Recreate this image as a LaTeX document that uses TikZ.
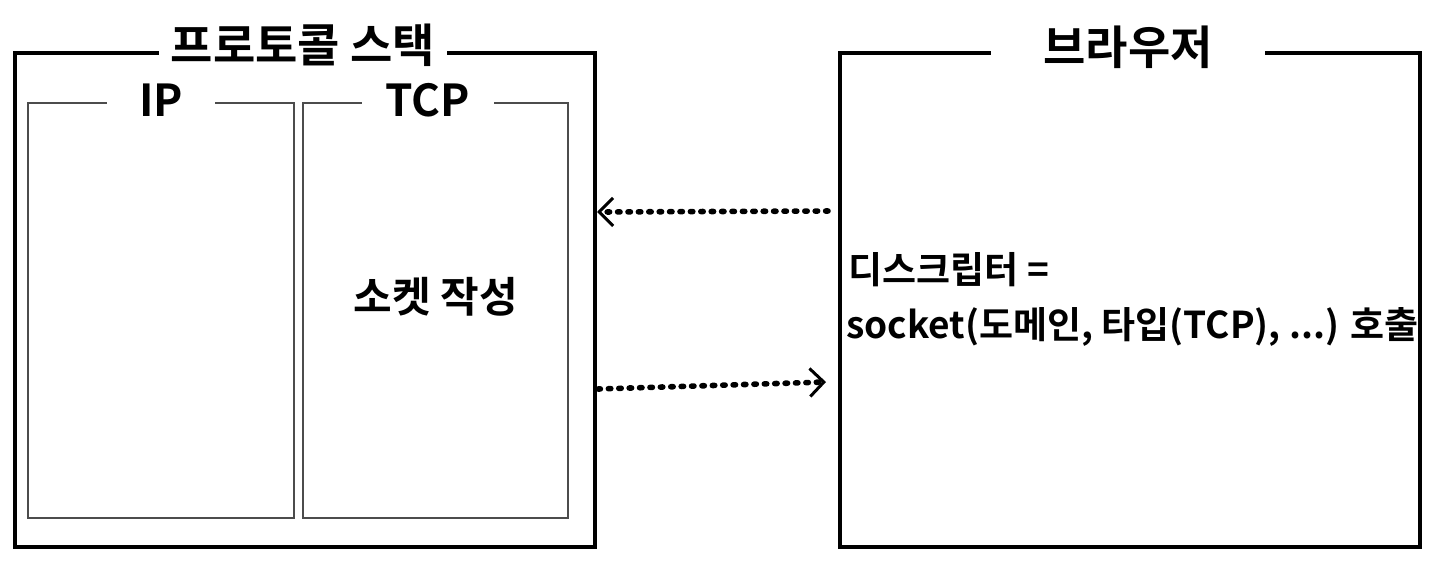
\documentclass[tikz,border=0pt]{standalone}
\usepackage{fontspec}
\setmainfont{Noto Sans CJK KR}[BoldFont={* Bold}]
\usetikzlibrary{positioning, arrows.meta}
\tikzset{
    outer box/.style={draw, line width=1.6pt}, % big frames
    inner box/.style={draw, line width=0.8pt, gray!60!black}, % layer frames
    title/.style={fill=white, inner xsep=6pt, inner ysep=1pt, font=\bfseries\fontsize{23}{26}\selectfont},
    sub title/.style={fill=white, inner xsep=12pt, inner ysep=1pt, font=\bfseries\fontsize{22}{26}\selectfont},
    body/.style={font=\bfseries\fontsize{18.5}{22}\selectfont, inner sep=0pt},
    call/.style={line width=2.8pt, dash pattern=on 1.2pt off 4pt, line cap=round, -{Straight Barb[length=7pt, width=14pt, line width=1.5pt]}},
}
\begin{document}
\begin{tikzpicture}[x=0.5pt, y=-0.5pt]
\useasboundingbox (0,0) rectangle (1437,563);
% protocol stack
\draw[outer box] (15,53) rectangle (595,547);
\draw[inner box] (28,103) rectangle (294,518);
\draw[inner box] (303,103) rectangle (568,518);
\node[title] (stack) at (303,45) {프로토콜 스택};
\node[sub title, inner xsep=16pt] (ip) at (161,100) {IP};
\node[sub title] (tcp) at (428,100) {TCP};
\node[body, font=\bfseries\fontsize{21}{24}\selectfont] (sock) at (436,297) {소켓 작성};
% browser
\draw[outer box] (840,53) rectangle (1420,547);
\node[title, inner xsep=26pt] (browser) at (1128,47) {브라우저};
\node[body, anchor=west] (desc) at (848,270) {디스크립터 =};
\node[body, anchor=west] (callsock) at (846,327) {socket(도메인, 타입(TCP), ...) 호출};
% calls
\coordinate (bIn) at (828,211);
\coordinate (sIn) at (597,212);
\coordinate (sOut) at (598,389);
\coordinate (bOut) at (826,382);
\draw[call] (bIn) -- (sIn);
\draw[call] (sOut) -- (bOut);
\end{tikzpicture}
\end{document}
